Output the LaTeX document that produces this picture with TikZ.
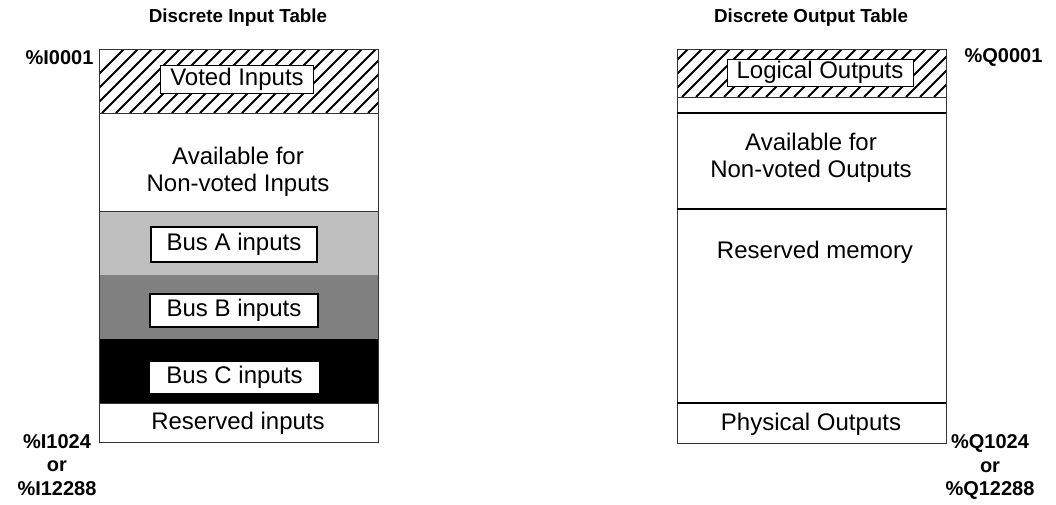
\documentclass[tikz,border=0pt]{standalone}
\usepackage{fontspec}
\setmainfont{Liberation Sans}
\begin{document}
\begin{tikzpicture}[x=1pt,y=-1pt,
  body/.style={font=\fontsize{24}{27}\selectfont},
  head/.style={font=\bfseries\fontsize{18.8}{23}\selectfont},
  addr/.style={font=\bfseries\fontsize{20}{23.5}\selectfont,align=center},
  thin line/.style={line width=0.9pt,black!80},
  sep/.style={line width=2pt},
  labelbox/.style={body,draw,fill=white,inner sep=0pt,minimum height=28pt}]
\useasboundingbox (0,0) rectangle (1056,504);

% input table
\fill[black!25] (99,211) rectangle (378,275);
\fill[black!50] (99,275) rectangle (378,339);
\fill[black] (99,339) rectangle (378,403);
\begin{scope}
\clip (99,49) rectangle (378,113);
\foreach \x in {60,74,...,400}
  \draw[line width=1.8pt] (\x,113) -- (\x+64,49);
\end{scope}
\draw[thin line] (99,49) rectangle (378,442);
\draw[thin line] (99,113) -- (378,113);
\draw[thin line] (99,211) -- (378,211);
\draw[thin line] (99,403) -- (378,403);

\node[labelbox,minimum width=153pt,line width=0.8pt] (voted) at (237,79) {Voted Inputs};
\node[body,align=center] (availin) at (238,172) {Available for\\Non-voted Inputs};
\node[labelbox,minimum width=166pt,minimum height=35pt,line width=2pt] (busa) at (234,244.5) {Bus A inputs};
\node[labelbox,minimum width=168pt,minimum height=33pt,line width=1.5pt] (busb) at (234,310.5) {Bus B inputs};
\node[labelbox,draw=none,minimum width=169pt,minimum height=31pt] (busc) at (234.5,377.5) {Bus C inputs};
\node[body] (resin) at (238,423) {Reserved inputs};

\node[head] (inhead) at (238,18) {Discrete Input Table};
\node[addr,anchor=east] (ifirst) at (97,58) {\%I0001};
\node[addr] (ilast) at (57,465) {\%I1024\\or\\\%I12288};

% output table
\begin{scope}
\clip (677,49) rectangle (946,97);
\foreach \x in {640,654,...,960}
  \draw[line width=1.8pt] (\x,97) -- (\x+48,49);
\end{scope}
\draw[thin line] (677,49) rectangle (946,443);
\draw[thin line] (677,97) -- (946,97);
\draw[sep] (677,113) -- (946,113);
\draw[sep] (677,209) -- (946,209);
\draw[sep] (677,403) -- (946,403);

\node[labelbox,minimum width=186pt,minimum height=27pt,line width=0.8pt] (logout) at (820,72.5) {Logical Outputs};
\node[body,align=center] (availout) at (811,158) {Available for\\Non-voted Outputs};
\node[body] (resmem) at (815,252) {Reserved memory};
\node[body] (physout) at (811,424) {Physical Outputs};

\node[head] (outhead) at (811,18) {Discrete Output Table};
\node[addr,anchor=west] (qfirst) at (961,57) {\%Q0001};
\node[addr] (qlast) at (990,467) {\%Q1024\\or\\\%Q12288};
\end{tikzpicture}
\end{document}
